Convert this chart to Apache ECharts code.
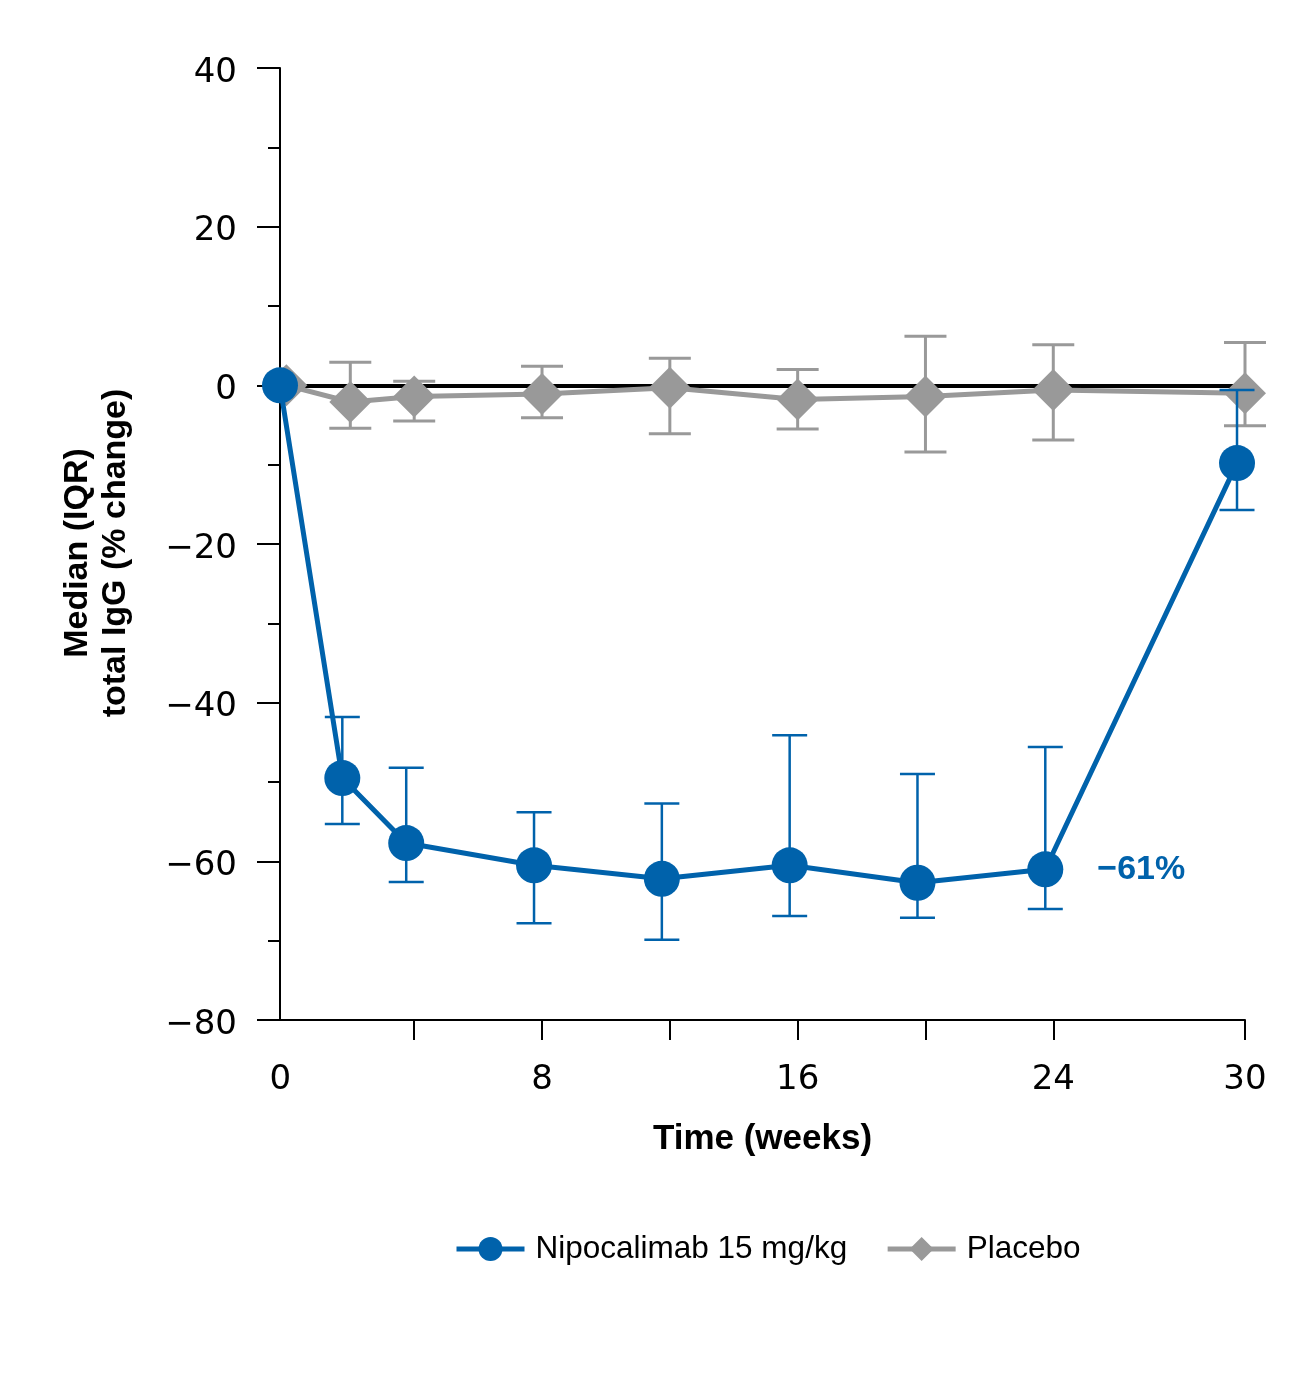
<!DOCTYPE html>
<html>
<head>
<meta charset="utf-8">
<title>Total IgG change</title>
<script src="https://cdn.jsdelivr.net/npm/echarts@6/dist/echarts.min.js"></script>
<style>
  html, body { margin: 0; padding: 0; background: #fff; }
  #chart { width: 1307px; height: 1400px; }
</style>
</head>
<body>
<div id="chart"></div>
<script>
// weeks on study
const weeks = [0, 2, 4, 8, 12, 16, 20, 24, 30];

// Nipocalimab 15 mg/kg: median and IQR (% change)
const nipoMedian = [0, -49.5, -57.7, -60.5, -62.2, -60.5, -62.7, -61.0, -9.8];
const nipoQ1 = [null, -55.3, -62.6, -67.8, -69.9, -66.9, -67.1, -66.0, -15.7];
const nipoQ3 = [null, -41.8, -48.2, -53.8, -52.7, -44.1, -49.0, -45.6, -0.6];

// Placebo
const placeboMedian = [0, -2.1, -1.4, -1.1, -0.3, -1.8, -1.4, -0.6, -1.0];
const placeboQ1 = [null, -5.4, -4.5, -4.1, -6.1, -5.5, -8.4, -6.9, -5.1];
const placeboQ3 = [null, 2.9, 0.5, 2.4, 3.4, 2.0, 6.2, 5.1, 5.4];

const xTicks = [4, 8, 12, 16, 20, 24, 30];
const xLabels = [0, 8, 16, 24, 30];
const nipoLabel = '−61%';

const BLUE = '#0062AB';
const GREY = '#999999';
const NIPO_SHIFT = -0.25; // small dodge so the two series don't overlap

const chart = echarts.init(document.getElementById('chart'));

function errorBars(color, lineWidth, halfCap) {
  return function (params, api) {
    const x = api.value(0);
    const lo = api.coord([x, api.value(1)]);
    const hi = api.coord([x, api.value(2)]);
    const style = { stroke: color, lineWidth: lineWidth };
    return {
      type: 'group',
      children: [
        { type: 'line', shape: { x1: lo[0], y1: lo[1], x2: hi[0], y2: hi[1] }, style: style },
        { type: 'line', shape: { x1: hi[0] - halfCap, y1: hi[1], x2: hi[0] + halfCap, y2: hi[1] }, style: style },
        { type: 'line', shape: { x1: lo[0] - halfCap, y1: lo[1], x2: lo[0] + halfCap, y2: lo[1] }, style: style }
      ]
    };
  };
}

function errData(lo, hi, shift) {
  const out = [];
  weeks.forEach((w, i) => {
    if (lo[i] != null && hi[i] != null) out.push([w + shift, lo[i], hi[i]]);
  });
  return out;
}

const nipoData = weeks.map((w, i) => {
  const item = { value: [w + (i === 0 ? -0.2 : NIPO_SHIFT), nipoMedian[i]] };
  if (w === 24) {
    item.label = {
      show: true,
      position: 'right',
      distance: 34,
      formatter: nipoLabel,
      color: BLUE,
      fontWeight: 'bold',
      fontSize: 34,
      fontFamily: 'Liberation Sans'
    };
  }
  return item;
});

const tickFont = { fontSize: 34, fontFamily: 'DejaVu Sans', color: '#000' };

const option = {
  animation: false,
  textStyle: { fontFamily: 'Liberation Sans' },
  grid: { left: 280, right: 62, top: 68, bottom: 380 },
  legend: {
    top: 1228,
    left: 449,
    itemWidth: 68,
    itemHeight: 30,
    itemGap: 38,
    lineStyle: { width: 5 },
    textStyle: { fontSize: 31.5, color: '#000', fontFamily: 'Liberation Sans', padding: [0, 0, 0, 6] },
    data: ['Nipocalimab 15 mg/kg', 'Placebo']
  },
  xAxis: {
    type: 'value',
    min: -0.2,
    max: 30,
    name: 'Time (weeks)',
    nameLocation: 'middle',
    nameGap: 102,
    nameTextStyle: { fontSize: 35, fontWeight: 'bold', color: '#000' },
    axisLine: { onZero: false, lineStyle: { color: '#000', width: 2 } },
    axisTick: { show: true, length: 20, lineStyle: { color: '#000', width: 2 }, customValues: xTicks },
    axisLabel: Object.assign({
      customValues: xLabels,
      margin: 43,
      formatter: v => (v === 0 ? '{z|0}' : String(v)),
      rich: { z: Object.assign({ padding: [0, 12, 0, 0] }, tickFont) }
    }, tickFont),
    splitLine: { show: false }
  },
  yAxis: {
    type: 'value',
    min: -80,
    max: 40,
    interval: 20,
    name: 'Median (IQR)\ntotal IgG (% change)',
    nameLocation: 'middle',
    nameGap: 145,
    nameTextStyle: { fontSize: 34, fontWeight: 'bold', color: '#000', lineHeight: 38, align: 'center', padding: [0, 18, 0, 0] },
    axisLine: { show: true, onZero: false, lineStyle: { color: '#000', width: 2 } },
    axisTick: { show: true, length: 23, lineStyle: { color: '#000', width: 2 } },
    minorTick: { show: true, splitNumber: 2, length: 12, lineStyle: { color: '#000', width: 2 } },
    axisLabel: Object.assign({
      margin: 43,
      formatter: v => '{t|' + String(v).replace('-', '−') + '}',
      rich: { t: Object.assign({ padding: [10, 0, 0, 0] }, tickFont) }
    }, tickFont),
    splitLine: { show: false }
  },
  series: [
    {
      name: 'Placebo IQR',
      type: 'custom',
      z: 2,
      silent: true,
      clip: false,
      renderItem: errorBars(GREY, 3, 21),
      encode: { x: 0, y: [1, 2] },
      data: errData(placeboQ1, placeboQ3, 0),
      markLine: {
        z: 1,
        silent: true,
        symbol: 'none',
        label: { show: false },
        lineStyle: { color: '#000', width: 4, type: 'solid' },
        data: [{ yAxis: 0 }]
      }
    },
    {
      name: 'Placebo',
      type: 'line',
      z: 3,
      clip: false,
      symbol: 'diamond',
      symbolSize: 42,
      color: GREY,
      lineStyle: { color: GREY, width: 5 },
      itemStyle: { color: GREY },
      data: weeks.map((w, i) => [w, placeboMedian[i]])
    },
    {
      name: 'Nipocalimab IQR',
      type: 'custom',
      z: 4,
      silent: true,
      clip: false,
      renderItem: errorBars(BLUE, 2.5, 17.5),
      encode: { x: 0, y: [1, 2] },
      data: errData(nipoQ1, nipoQ3, NIPO_SHIFT)
    },
    {
      name: 'Nipocalimab 15 mg/kg',
      type: 'line',
      z: 5,
      clip: false,
      symbol: 'circle',
      symbolSize: 36,
      color: BLUE,
      lineStyle: { color: BLUE, width: 5 },
      itemStyle: { color: BLUE },
      data: nipoData
    }
  ]
};

chart.setOption(option);
</script>
</body>
</html>
